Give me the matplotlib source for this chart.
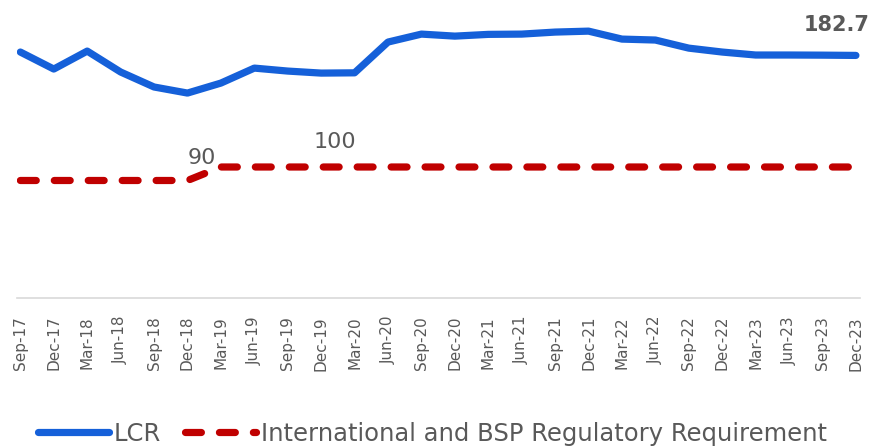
import matplotlib.pyplot as plt

quarters = ["Sep-17", "Dec-17", "Mar-18", "Jun-18", "Sep-18", "Dec-18", "Mar-19",
            "Jun-19", "Sep-19", "Dec-19", "Mar-20", "Jun-20", "Sep-20", "Dec-20",
            "Mar-21", "Jun-21", "Sep-21", "Dec-21", "Mar-22", "Jun-22", "Sep-22",
            "Dec-22", "Mar-23", "Jun-23", "Sep-23", "Dec-23"]
lcr = [185.2, 172.6, 185.9, 170.4, 159.3, 154.8, 162.2, 173.3, 171.1, 169.6,
       169.8, 192.6, 198.5, 197.0, 198.3, 198.5, 200.0, 200.7, 194.8, 194.1,
       188.1, 185.2, 183.0, 183.0, 182.9, 182.7]
requirement = [90, 90, 90, 90, 90, 90, 100, 100, 100, 100, 100, 100, 100, 100,
               100, 100, 100, 100, 100, 100, 100, 100, 100, 100, 100, 100]

blue = "#1560D9"
red = "#C00000"
grey = "#595959"

x = list(range(len(quarters)))

fig = plt.figure(figsize=(8.73, 4.46), dpi=100)
ax = fig.add_axes([0.0195, 0.332, 0.9655, 0.623])

ax.plot(x, lcr, color=blue, lw=5.2, solid_capstyle="round",
        solid_joinstyle="round", label="LCR")
ax.plot(x, requirement, color=red, lw=5.2, dashes=(2.2, 2.5),
        dash_capstyle="round", label="International and BSP Regulatory Requirement")

# data labels
ax.annotate("182.7", (x[-1], lcr[-1]), xytext=(10, 22), textcoords="offset points",
            ha="right", va="center", fontsize=15, fontweight="bold", color=grey)
ax.annotate("90", (x[5], requirement[5]), xytext=(10, 16), textcoords="offset points",
            ha="center", va="center", fontsize=16, color=grey)
ax.annotate("100", (x[9], requirement[9]), xytext=(10, 18), textcoords="offset points",
            ha="center", va="center", fontsize=16, color=grey)

ax.set_xlim(-0.1, 25.12)
ax.set_ylim(2.96, 208.9)
ax.set_yticks([])
ax.set_xticks(x)
ax.set_xticklabels(quarters, rotation=90, fontsize=11, color=grey)
ax.tick_params(axis="x", length=0, pad=13)
for side in ["top", "right", "left"]:
    ax.spines[side].set_visible(False)
ax.spines["bottom"].set_color("#D9D9D9")
ax.spines["bottom"].set_linewidth(1.2)

fig.legend(loc="center left", bbox_to_anchor=(0.044, 0.027), ncol=2, frameon=False,
           fontsize=17.5, labelcolor=grey, handlelength=2.9, handletextpad=0.2,
           columnspacing=1.0, borderpad=0, borderaxespad=0)

fig.savefig("out.png", dpi=100)
